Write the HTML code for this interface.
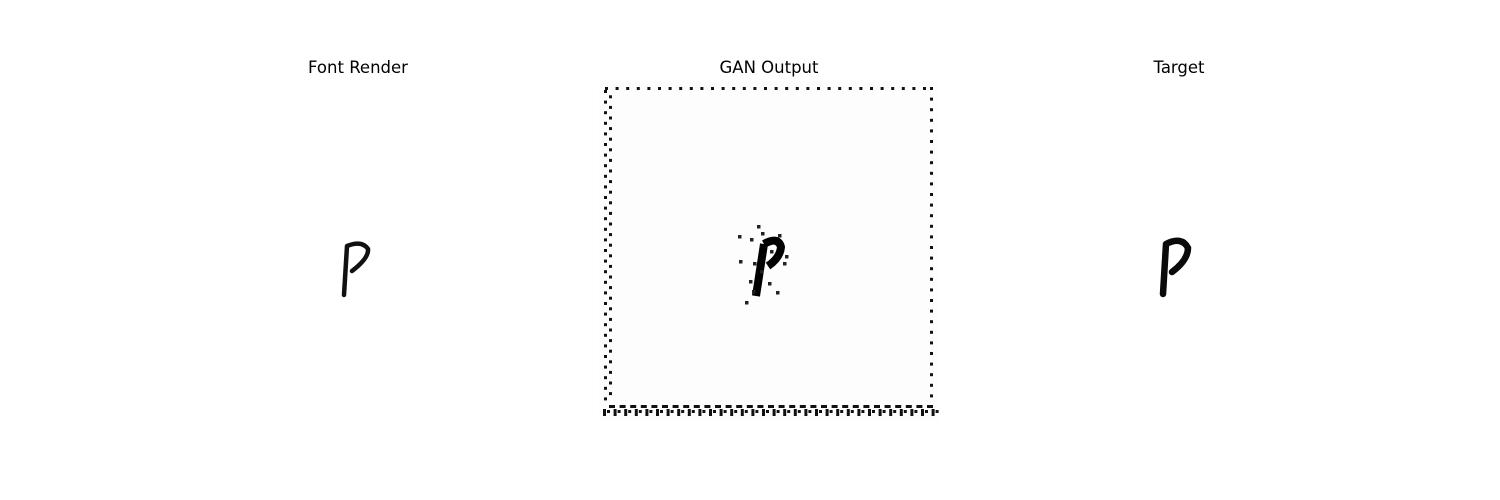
<!DOCTYPE html>
<html><head><meta charset="utf-8"><style>
html,body{margin:0;padding:0;background:#fff}
svg{display:block}
text{font-family:"DejaVu Sans","Liberation Sans",sans-serif;font-size:16.5px;fill:#000}
</style></head><body>
<svg width="1500" height="500" viewBox="0 0 1500 500">
<g id="titles"></g>
<g>
  <path d="M347,246 L344,295 M347,246 Q362,240 368,249 Q369,258 352,271" stroke="#111" stroke-width="4.5" fill="none" stroke-linecap="round"/>
</g>
<g>
  <rect x="599" y="82" width="339" height="339" fill="#fdfdfd"/>
  <g id="gan-border" fill="#111"></g>
  <g>
    <path d="M764,244 L756,296 M764,244 Q778,236 781,247 Q780,258 768,266" stroke="#000" stroke-width="8" fill="none" stroke-linejoin="round"/>
    <g fill="#222" id="gan-specks"></g>
  </g>
</g>
<g>
  <path d="M1166,244 L1163,294 M1166,244 Q1182,236 1188,248 Q1188,260 1172,272" stroke="#0a0a0a" stroke-width="6.5" fill="none" stroke-linecap="round"/>
</g>
</svg>
<script>
const titles=["Font Render","GAN Output","Target"];
const centers=[358,769,1179];
const NS="http://www.w3.org/2000/svg";
const tg=document.getElementById('titles');
titles.forEach((t,i)=>{const e=document.createElementNS(NS,'text');
e.setAttribute('x',centers[i]);e.setAttribute('y',73);e.setAttribute('text-anchor','middle');e.textContent=t;


tg.appendChild(e);});
const b=document.getElementById('gan-border');
function r(x,y,w,h){const e=document.createElementNS(NS,'rect');e.setAttribute('x',x);e.setAttribute('y',y);e.setAttribute('width',w);e.setAttribute('height',h);b.appendChild(e);}
for(let x=605;x<=930;x+=10.6)r(x,87,3,3);
for(let y=87;y<=405;y+=10.6)r(930,y,3,3);
let k=0;for(let y=90;y<=402;y+=5.3){r(k%2?609:604,y,3,3);k++;}
for(let x=609;x<=930;x+=10.6)r(x,405,6,3);
for(let x=603;x<=935;x+=10.6){r(x,409,3,7);r(x+4,410,3,3);}
const s=document.getElementById('gan-specks');
[[738,235],[757,225],[778,234],[750,238],[785,255],[739,260],[749,280],[776,291],[745,301],[768,282],[783,262],[761,232],[752,290],[770,250],[760,270],[753,262]].forEach(p=>{const e=document.createElementNS(NS,'rect');e.setAttribute('x',p[0]);e.setAttribute('y',p[1]);e.setAttribute('width',3.5);e.setAttribute('height',3.5);s.appendChild(e);});
</script>
</body></html>
